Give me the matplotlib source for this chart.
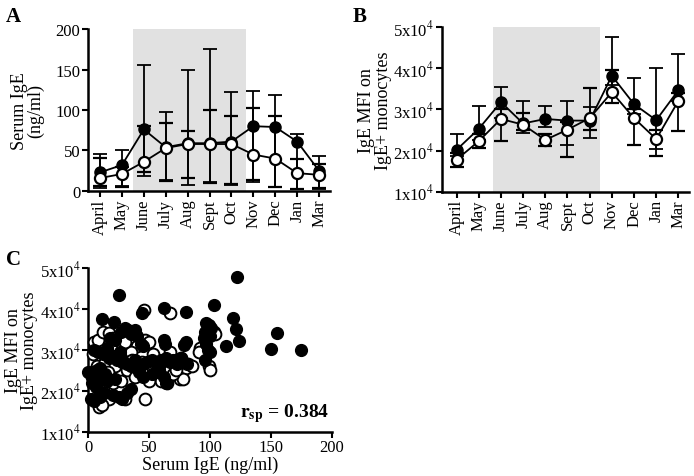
import matplotlib
matplotlib.use("Agg")
from matplotlib import pyplot as plt

plt.rcParams['font.family'] = ['Liberation Serif', 'DejaVu Serif']
plt.rcParams['mathtext.fontset'] = 'stix'

months = ['April', 'May', 'June', 'July', 'Aug', 'Sept', 'Oct', 'Nov', 'Dec', 'Jan', 'Mar']

# panel A, serum IgE (ng/ml)
ige_fill = [23, 32, 76, 54, 59, 59, 61, 80, 79, 61, 25]
ige_fill_hi = [46, 51, 156, 98, 150, 175, 122, 123, 118, 70, 43]
ige_fill_lo = [4, 6, 18, 13, 7, 11, 8, 11, 5, 3, 3]
ige_open = [16, 21, 36, 53, 58, 58, 58, 45, 40, 22, 20]
ige_open_hi = [41, 30, 80, 84, 74, 100, 92, 103, 92, 40, 33]
ige_open_lo = [6, 5, 24, 12, 16, 10, 9, 14, 5, 2, 4]

# panel B, IgE MFI (x10^4)
mfi_fill = [2.02, 2.53, 3.18, 2.66, 2.77, 2.73, 2.73, 3.82, 3.13, 2.74, 3.47]
mfi_fill_hi = [2.40, 3.08, 3.54, 3.20, 3.08, 3.21, 3.05, 4.77, 3.77, 4.00, 4.35]
mfi_fill_lo = [1.88, 2.25, 2.80, 2.43, 2.58, 2.14, 2.30, 3.60, 2.90, 2.04, 3.20]
mfi_open = [1.78, 2.23, 2.77, 2.63, 2.26, 2.51, 2.79, 3.42, 2.79, 2.28, 3.21]
mfi_open_hi = [1.95, 2.40, 3.00, 2.91, 2.40, 2.70, 3.52, 3.97, 3.00, 2.50, 3.40]
mfi_open_lo = [1.61, 2.06, 2.23, 2.50, 2.10, 1.85, 2.50, 3.16, 2.14, 1.88, 2.47]

# panel C, serum IgE vs MFI (x10^4)
sc_fill_x = [25, 122, 62, 80, 44, 103, 119, 121, 124, 113, 150, 155, 175, 11, 21,
             30, 33, 38, 27, 35, 40, 18, 22, 43, 45, 62, 63, 80, 79, 97, 99, 96, 100, 101, 95, 97, 98,
             5, 8, 12, 15, 17, 20, 24, 26, 28, 32, 35, 38, 41, 45, 48, 52, 55, 58, 60, 64, 67, 70,
             73, 76, 78, 81, 96, 100, 3, 0, 7, 10, 14, 62, 64, 42, 45, 3, 6, 9,
             2, 5, 10, 13, 20, 25, 28, 32, 35, 8, 15, 22, 52, 58]
sc_fill_y = [4.35, 4.78, 4.02, 3.93, 3.90, 4.10, 3.78, 3.51, 3.22, 3.10, 3.02, 3.42, 2.99, 3.75, 3.68,
             3.55, 3.50, 3.48, 3.45, 3.40, 3.35, 3.30, 3.25, 3.15, 3.10, 3.25, 3.15, 3.20, 3.12, 3.65, 3.60, 3.45, 3.35, 3.55, 3.30, 3.15, 3.00,
             3.00, 2.95, 2.90, 3.05, 2.80, 2.85, 2.75, 2.95, 2.70, 2.65, 2.60, 2.75, 2.55, 2.65, 2.70, 2.75, 2.70, 2.60, 2.75, 2.80, 2.70, 2.75,
             2.65, 2.80, 2.70, 2.65, 2.75, 2.95, 2.45, 2.45, 2.50, 2.55, 2.40, 2.35, 2.20, 2.45, 2.35, 2.20, 2.10, 2.00,
             1.80, 1.75, 1.85, 1.95, 1.90, 1.85, 1.80, 1.95, 2.05, 2.25, 2.25, 2.30, 2.40, 2.50]
sc_open_x = [46, 67, 5, 8, 12, 17, 20, 25, 47, 40, 30, 35, 67, 63, 76, 92, 91, 100, 103, 104,
             99, 100, 82, 80, 75, 78, 65, 60, 50, 47, 30, 17, 9, 11, 20, 24, 27, 32, 38, 42,
             55, 58, 70, 3, 7, 4, 14, 22, 26, 52, 44, 36, 12, 16, 19, 30, 53, 72, 85, 50]
sc_open_y = [3.97, 3.90, 3.20, 3.25, 3.45, 3.42, 3.30, 3.30, 3.25, 3.10, 3.00, 2.95, 2.95, 2.75, 2.80, 3.05, 2.95, 3.50, 3.45, 3.40,
             2.60, 2.50, 2.65, 2.55, 2.30, 2.30, 2.20, 2.25, 2.25, 1.80, 1.80, 1.80, 1.60, 1.65, 2.20, 2.40, 2.25, 2.50, 2.35, 2.55,
             2.55, 2.45, 2.40, 2.35, 2.60, 2.90, 2.70, 2.60, 2.80, 2.60, 2.70, 2.75, 2.10, 2.45, 3.10, 3.20, 2.90, 2.50, 2.60, 3.20]

fig = plt.figure(figsize=(6.94, 4.77), dpi=100)
axA = fig.add_axes([0.1268, 0.5975, 0.3487, 0.3396])
axB = fig.add_axes([0.6365, 0.596, 0.357, 0.3447])
axC = fig.add_axes([0.1272, 0.0929, 0.3507, 0.3426])

fs = 12
lfs = 13


def style(ax):
    for s in ['top', 'right']:
        ax.spines[s].set_visible(False)
    for s in ['left', 'bottom']:
        ax.spines[s].set_linewidth(1.8)
    ax.tick_params(direction='out', width=1.5, length=4, labelsize=fs, pad=1.5)


def month_panel(ax, f, fhi, flo, o, ohi, olo, span):
    idx = list(range(len(months)))
    ax.axvspan(span[0], span[1], color='#e1e1e1', lw=0, zorder=0)
    ferr = [[a - b for a, b in zip(f, flo)], [b - a for a, b in zip(f, fhi)]]
    oerr = [[a - b for a, b in zip(o, olo)], [b - a for a, b in zip(o, ohi)]]
    ax.errorbar(idx, f, yerr=ferr, color='black', lw=1.3, elinewidth=1.3, capsize=5, capthick=1.3,
                marker='o', ms=8, mfc='black', mec='black', zorder=3)
    ax.errorbar(idx, o, yerr=oerr, color='black', lw=1.3, elinewidth=1.3, capsize=5, capthick=1.3,
                marker='o', ms=8, mfc='white', mec='black', mew=1.6, zorder=4)
    ax.set_xticks(idx)
    ax.set_xticklabels(months, rotation=90)
    style(ax)


# A
month_panel(axA, ige_fill, ige_fill_hi, ige_fill_lo, ige_open, ige_open_hi, ige_open_lo, (1.51, 6.65))
axA.set_xlim(-0.55, 10.5)
axA.set_ylim(0, 200)
axA.set_yticks([0, 50, 100, 150, 200])
axA.set_ylabel('Serum IgE\n(ng/ml)', fontsize=lfs, linespacing=0.95, labelpad=8)

# B
month_panel(axB, mfi_fill, mfi_fill_hi, mfi_fill_lo, mfi_open, mfi_open_hi, mfi_open_lo, (1.64, 6.47))
axB.set_xlim(-0.67, 10.5)
axB.set_ylim(1, 5)
ylabs = [r'%dx10$^4$' % v for v in [1, 2, 3, 4, 5]]
axB.set_yticks([1, 2, 3, 4, 5])
axB.set_yticklabels(ylabs)
axB.set_ylabel('IgE MFI on\nIgE+ monocytes', fontsize=lfs, linespacing=0.95, labelpad=1)

# C
axC.scatter(sc_open_x, sc_open_y, s=72, facecolor='white', edgecolor='black', linewidth=1.4, zorder=3, clip_on=False)
axC.scatter(sc_fill_x, sc_fill_y, s=72, facecolor='black', edgecolor='black', linewidth=1.0, zorder=4, clip_on=False)
axC.set_xlim(0, 200)
axC.set_ylim(1, 5)
axC.set_xticks([0, 50, 100, 150, 200])
axC.set_yticks([1, 2, 3, 4, 5])
axC.set_yticklabels(ylabs)
axC.set_xlabel('Serum IgE (ng/ml)', fontsize=lfs, labelpad=0)
axC.set_ylabel('IgE MFI on\nIgE+ monocytes', fontsize=lfs, linespacing=0.95, labelpad=1)
style(axC)
axC.text(0.99, 0.12, r'$\mathbf{r_{sp}}$ = 0.384', transform=axC.transAxes, ha='right', va='center',
         fontsize=14, fontweight='bold')

for lab, x, y in [('A', 0.008, 0.985), ('B', 0.508, 0.985), ('C', 0.008, 0.475)]:
    fig.text(x, y, lab, fontsize=15, fontweight='bold', ha='left', va='top')

fig.savefig('out.png', dpi=100)
